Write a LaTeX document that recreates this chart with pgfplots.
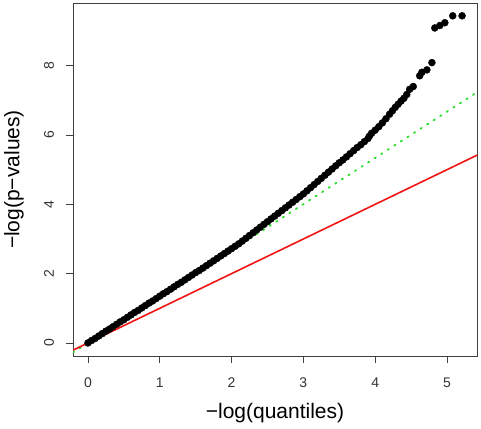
\documentclass[border=0pt]{standalone}
\usepackage{fontspec}
\setmainfont{Liberation Sans}
\usepackage{pgfplots}
\pgfplotsset{compat=1.18}
\usetikzlibrary{calc}
\definecolor{rred}{RGB}{240,20,20}
\definecolor{rgreen}{RGB}{40,220,40}
\begin{document}
\begin{tikzpicture}
\begin{axis}[
  scale only axis,
  width=404pt, height=353pt,
  xmin=-0.208, xmax=5.418,
  ymin=-0.377, ymax=9.81,
  axis line style={black!75, line width=0.8pt},
  xtick={0,1,2,3,4,5},
  ytick={0,2,4,6,8},
  tick align=outside,
  major tick length=7pt,
  tick style={black!75, line width=0.8pt},
  xtick pos=bottom, ytick pos=left,
  /pgf/number format/assume math mode=true,
  ticklabel style={font=\fontsize{14}{16}\selectfont, text=black!80},
  xticklabel style={anchor=center, yshift=-20pt},
  yticklabel style={anchor=center, xshift=-17pt, rotate=90},
  xlabel={−log(quantiles)},
  ylabel={−log(p−values)},
  label style={font=\fontsize{21}{24}\selectfont},
  xlabel style={at={(axis description cs:0.5,-0.1615)}, anchor=center},
  ylabel style={at={(axis description cs:-0.146,0.5)}, anchor=center, rotate=0},
  clip=true,
]
\addplot[only marks, mark=*, mark size=3.5pt, mark options={fill=black, draw=black}] coordinates {
(0.00,0.00) (0.05,0.07) (0.10,0.13) (0.15,0.20) (0.20,0.27) (0.25,0.34) (0.30,0.40) (0.35,0.47)
(0.40,0.54) (0.45,0.61) (0.50,0.67) (0.55,0.74) (0.60,0.81) (0.65,0.88) (0.70,0.94) (0.75,1.01)
(0.80,1.08) (0.85,1.15) (0.90,1.21) (0.95,1.28) (1.00,1.35) (1.05,1.42) (1.10,1.48) (1.15,1.55)
(1.20,1.62) (1.25,1.69) (1.30,1.75) (1.35,1.82) (1.40,1.89) (1.45,1.96) (1.50,2.03) (1.55,2.09)
(1.60,2.16) (1.65,2.23) (1.70,2.30) (1.75,2.37) (1.80,2.44) (1.85,2.51) (1.90,2.58) (1.95,2.65)
(2.00,2.72) (2.05,2.79) (2.10,2.86) (2.15,2.94) (2.20,3.02) (2.25,3.10) (2.30,3.18) (2.35,3.26)
(2.40,3.34) (2.45,3.42) (2.50,3.50) (2.55,3.58) (2.60,3.66) (2.65,3.74) (2.70,3.82) (2.75,3.90)
(2.80,3.98) (2.85,4.06) (2.90,4.14) (2.95,4.22) (3.00,4.30) (3.05,4.39) (3.10,4.48) (3.15,4.57)
(3.20,4.66) (3.25,4.75) (3.30,4.84) (3.35,4.93) (3.40,5.02) (3.45,5.11) (3.50,5.20) (3.55,5.28)
(3.60,5.37) (3.65,5.46) (3.70,5.55) (3.75,5.64) (3.80,5.72) (3.85,5.81) (3.90,5.90) (3.92,5.97)
(3.95,6.05) (4.00,6.14) (4.05,6.24) (4.10,6.35) (4.15,6.47) (4.20,6.60) (4.24,6.70) (4.28,6.80)
(4.32,6.89) (4.36,6.98) (4.40,7.06) (4.44,7.17) (4.48,7.32) (4.53,7.40) (4.62,7.71) (4.65,7.81)
(4.72,7.88) (4.79,8.09) (4.83,9.09) (4.90,9.16) (4.97,9.24) (5.08,9.44) (5.21,9.44)
};
\addplot[rgreen, line width=1.8pt, dash pattern=on 1.4pt off 6.4pt, line cap=round] coordinates {(-0.3,-0.4005) (5.5,7.3425)};
\addplot[rred, line width=1.6pt] coordinates {(-0.3,-0.3) (5.5,5.5)};
\end{axis}
\pgfresetboundingbox
\path ($(current axis.south west)+(-73pt,-72pt)$) rectangle ($(current axis.north east)+(4pt,3pt)$);
\end{tikzpicture}
\end{document}
